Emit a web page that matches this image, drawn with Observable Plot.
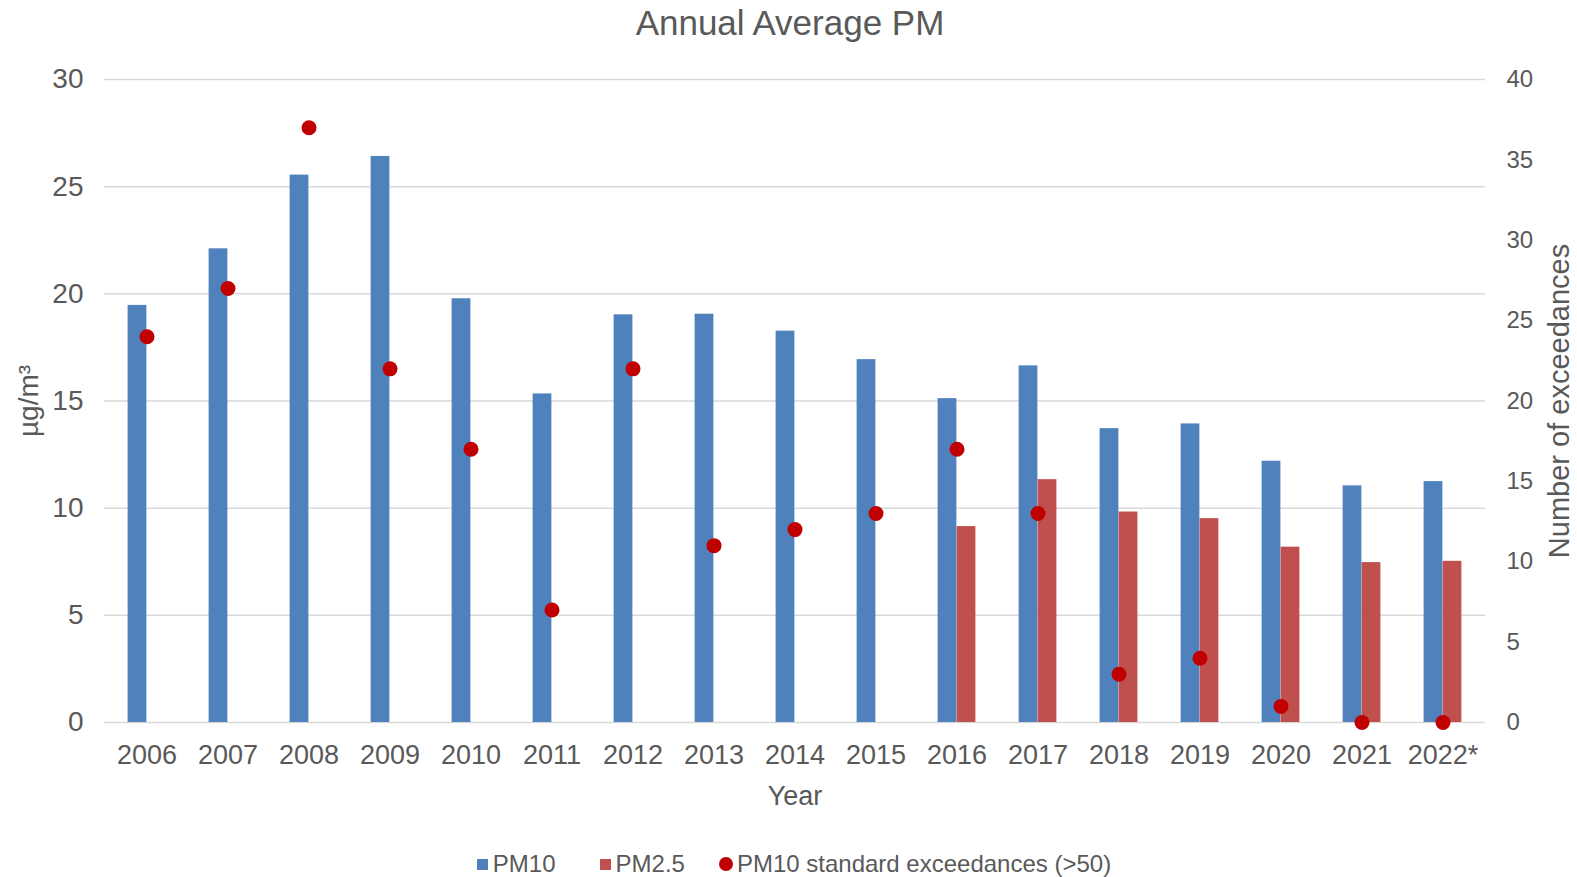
<!DOCTYPE html>
<html>
<head>
<meta charset="utf-8">
<script src="https://cdn.jsdelivr.net/npm/d3@7"></script>
<script src="https://cdn.jsdelivr.net/npm/@observablehq/plot@0.6"></script>
<style>
  html, body { margin: 0; padding: 0; background: #fff; }
  body { width: 1577px; height: 877px; overflow: hidden; font-family: "Liberation Sans", Arial, sans-serif; color: #595959; }
  #title { height: 42px; padding-top: 5px; padding-left: 3px; box-sizing: border-box; font-size: 35px; line-height: 35px; text-align: center; }
  #legend { height: 55px; box-sizing: border-box; padding-top: 29px; padding-left: 11px; display: flex; justify-content: center; align-items: center; font-size: 24px; line-height: 24px; }
  .item { display: flex; align-items: center; }
  .sw { width: 11px; height: 11px; margin-right: 5px; }
  .circ { width: 14px; height: 14px; border-radius: 50%; margin-right: 4px; }
</style>
</head>
<body>
<div id="title">Annual Average PM</div>
<div id="chart"></div>
<div id="legend">
  <div class="item" style="margin-right:44px"><div class="sw" style="background:#4F81BD"></div>PM10</div>
  <div class="item" style="margin-right:34px"><div class="sw" style="background:#C0504D"></div>PM2.5</div>
  <div class="item"><div class="circ" style="background:#C00000"></div>PM10 standard exceedances (&gt;50)</div>
</div>
<script>
const years = ["2006","2007","2008","2009","2010","2011","2012","2013","2014","2015","2016","2017","2018","2019","2020","2021","2022*"];
const pm10 = [19.46, 22.1, 25.54, 26.41, 19.77, 15.33, 19.02, 19.05, 18.26, 16.93, 15.11, 16.64, 13.71, 13.93, 12.19, 11.04, 11.24];
const pm25 = [null, null, null, null, null, null, null, null, null, null, 9.14, 11.33, 9.82, 9.51, 8.18, 7.46, 7.52];
const exceedances = [24, 27, 37, 22, 17, 7, 22, 11, 12, 13, 17, 13, 3, 4, 1, 0, 0];
const leftTicks = [0, 5, 10, 15, 20, 25, 30];
const rightTicks = [0, 5, 10, 15, 20, 25, 30, 35, 40];

const W = 1577, H = 780, mL = 104, mR = 92, mT = 37, mB = 100;
const ratio = 30 / 40; // right axis (0–40) mapped onto left scale (0–30)
const band = (W - mL - mR) / years.length;
const barW = 19;

const table = years.map((year, i) => ({year, pm10: pm10[i], pm25: pm25[i], exc: exceedances[i]}));

const chart = Plot.plot({
  width: W, height: H,
  marginTop: mT, marginBottom: mB, marginLeft: mL, marginRight: mR,
  style: {fontFamily: '"Liberation Sans", Arial, sans-serif', fontSize: "27px", color: "#595959", background: "white"},
  x: {type: "band", domain: years, padding: 0},
  y: {domain: [0, 30]},
  marks: [
    Plot.ruleY(leftTicks, {stroke: "#D9D9D9", strokeWidth: 1.5}),
    Plot.barY(table.filter(d => d.pm10 != null), {x: "year", y: "pm10", fill: "#4F81BD", insetLeft: band / 2 - barW, insetRight: band / 2}),
    Plot.barY(table.filter(d => d.pm25 != null), {x: "year", y: "pm25", fill: "#C0504D", insetLeft: band / 2, insetRight: band / 2 - barW}),
    Plot.dot(table, {x: "year", y: d => d.exc * ratio, r: 7.5, fill: "#C00000", stroke: "none"}),
    Plot.axisX({tickSize: 0, tickPadding: 22, label: "Year", labelAnchor: "center", labelOffset: 82, labelArrow: "none"}),
    Plot.axisY(leftTicks, {anchor: "left", tickSize: 0, tickPadding: 21, fontSize: 28, label: "µg/m³", labelAnchor: "center", labelOffset: 86, labelArrow: "none"}),
    Plot.axisY(rightTicks.map(v => v * ratio), {anchor: "right", tickSize: 0, tickPadding: 21, fontSize: 24, tickFormat: v => String(Math.round(v / ratio)), label: null, labelArrow: "none"}),
    Plot.axisY({anchor: "right", ticks: [], tickSize: 0, fontSize: 29, label: "Number of exceedances", labelAnchor: "center", labelOffset: 83, labelArrow: "none"})
  ]
});
document.getElementById("chart").appendChild(chart);
</script>
</body>
</html>
